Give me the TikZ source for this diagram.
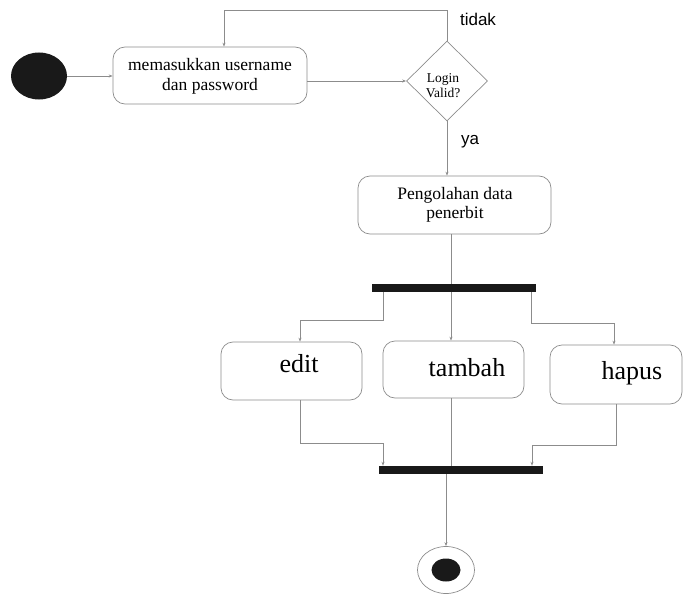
\documentclass[tikz,border=0pt]{standalone}
\usepackage{fontspec}
\setmainfont{Liberation Serif}
\newfontfamily\sansf{Liberation Sans}
\usetikzlibrary{shapes.geometric,arrows.meta}
\begin{document}
\begin{tikzpicture}[x=1pt,y=-1pt,
  line/.style={draw=black!45, line width=0.7pt},
  arr/.style={line, -{Stealth[length=4pt,width=3pt]}},
  actbox/.style={draw=black!45, line width=0.7pt, rounded corners=12pt, inner sep=0pt},
  bartype/.style={fill=black!90, draw=none, inner sep=0pt, minimum width=164pt, minimum height=8pt},
  boxtext/.style={font=\fontsize{17.5}{20}\selectfont, align=center, anchor=base, inner sep=0pt},
  bigtext/.style={font=\fontsize{26}{30}\selectfont, anchor=base, inner sep=0pt},
  guard/.style={font=\sansf\fontsize{17}{20}\selectfont, anchor=base, inner sep=0pt},
]
\useasboundingbox (0,0) rectangle (683,594);

% start
\node[ellipse, fill=black!90, minimum width=56pt, minimum height=47pt, inner sep=0pt] (start) at (39,76) {};

% login box
\node[actbox, minimum width=194pt, minimum height=57pt] (login) at (210,75.5) {};
\node[boxtext] (logint) at (210,90) {memasukkan username\\dan password};

% decision
\node[diamond, draw=black!45, line width=0.7pt, minimum width=81pt, minimum height=80pt, inner sep=0pt] (dec) at (447,81) {};
\node[font=\fontsize{13.5}{16}\selectfont, align=center, anchor=base, inner sep=0pt] (dect) at (443,98) {Login\\Valid?};

\node[guard] (tidak) at (478,26) {tidak};
\node[guard] (ya) at (470,144) {ya};

% processing box
\node[actbox, minimum width=193pt, minimum height=58pt] (proc) at (454.5,205) {};
\node[boxtext, font=\fontsize{17.5}{18.5}\selectfont] (proct) at (455,218) {Pengolahan data\\penerbit};

% fork bar
\node[bartype] (fork) at (454,288) {};

% three activity boxes
\node[actbox, minimum width=141pt, minimum height=58pt] (edit) at (291.5,371) {};
\node[bigtext] (editt) at (299,372) {edit};
\node[actbox, minimum width=141pt, minimum height=57pt] (tambah) at (453.5,369.5) {};
\node[bigtext] (tambaht) at (467,376) {tambah};
\node[actbox, minimum width=132pt, minimum height=59pt] (hapus) at (616,374.5) {};
\node[bigtext] (hapust) at (632,379) {hapus};

% join bar
\node[bartype] (join) at (461,470) {};

% end
\node[ellipse, draw=black!45, line width=0.7pt, minimum width=57pt, minimum height=47pt, inner sep=0pt] (endo) at (446,570) {};
\node[ellipse, fill=black!90, minimum width=29pt, minimum height=23pt, inner sep=0pt] (endi) at (446,570) {};

% helper coordinates
\coordinate (loopc) at (224,10);
\coordinate (b1) at (383,320);
\coordinate (e1) at (300,320);
\coordinate (b3) at (531,323);
\coordinate (h1) at (614,323);
\coordinate (m1) at (451,0);
\coordinate (j1) at (300,443);
\coordinate (j2) at (383,443);
\coordinate (k1) at (616,445);
\coordinate (k2) at (532,445);

% connectors
\draw[arr] (start.east) -- (login.west |- start.east);
\draw[arr] (login.east |- dec.west) -- (dec.west);
\draw[arr] (dec.north) |- (loopc) -- (login.north -| loopc);
\draw[arr] (dec.south) -- (proc.north -| dec.south);
\draw[line] (proc.south -| m1) -- (fork.north -| m1);
\draw[arr] (fork.south -| b1) -- (b1) -- (e1) -- (edit.north -| e1);
\draw[arr] (fork.south -| m1) -- (tambah.north -| m1);
\draw[arr] (fork.south -| b3) -- (b3) -- (h1) -- (hapus.north -| h1);
\draw[line] (edit.south -| j1) -- (j1) -- (j2);
\draw[arr] (j2) -- (join.north -| j2);
\draw[line] (tambah.south -| m1) -- (join.north -| m1);
\draw[line] (hapus.south -| k1) -- (k1) -- (k2);
\draw[arr] (k2) -- (join.north -| k2);
\draw[arr] (join.south -| endo.north) -- (endo.north);
\end{tikzpicture}
\end{document}
